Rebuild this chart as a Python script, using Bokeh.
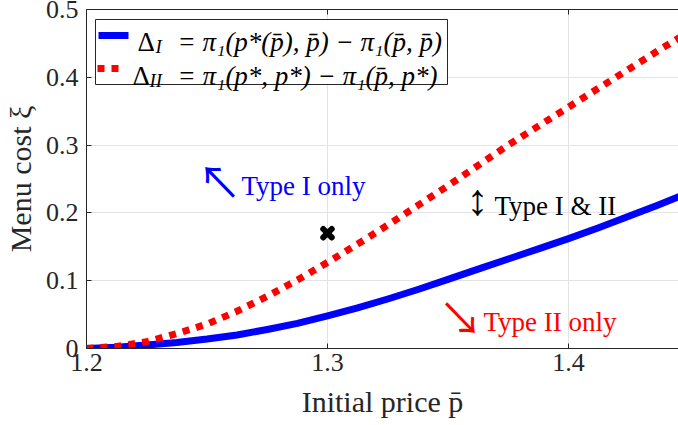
from bokeh.plotting import figure
from bokeh.models import Range1d, LinearAxis, FixedTicker, Label, BoxAnnotation, CustomJSTickFormatter
from bokeh.embed import file_html
from bokeh.resources import INLINE

# Initial price grid and the two menu-cost thresholds
price = [1.2000, 1.2125, 1.2250, 1.2375, 1.2500, 1.2625, 1.2750, 1.2875, 1.3000,
         1.3125, 1.3250, 1.3375, 1.3500, 1.3625, 1.3750, 1.3875, 1.4000, 1.4125,
         1.4250, 1.4375, 1.4500]
delta_I = [0.000, 0.002, 0.005, 0.009, 0.014, 0.020, 0.028, 0.037, 0.048,
           0.060, 0.073, 0.087, 0.102, 0.117, 0.132, 0.147, 0.162, 0.178,
           0.195, 0.212, 0.230]
delta_II = [0.000, 0.003, 0.010, 0.022, 0.036, 0.055, 0.077, 0.101, 0.127,
            0.154, 0.182, 0.211, 0.240, 0.270, 0.300, 0.328, 0.356, 0.384,
            0.412, 0.440, 0.467]

# Highlighted parameter point
point_price = [1.30]
point_cost = [0.17]

x_ticks = [1.2, 1.3, 1.4]
x_tick_labels = ["1.2", "1.3", "1.4"]
y_ticks = [0.0, 0.1, 0.2, 0.3, 0.4, 0.5]
y_tick_labels = ["0", "0.1", "0.2", "0.3", "0.4", "0.5"]

FONT = "Liberation Serif"
ARROW_FONT = "Noto Sans CJK JP"
AX = "#262626"

# Canvas and frame geometry (pixels)
W, H = 678, 425
L, R, T, B = 86, 678, 9, 348
X0, X1 = 1.2, 1.2 + (R - L) / 2410.0
Y0, Y1 = 0.0, 0.5


def dx(px):
    return X0 + (px - L) * (X1 - X0) / (R - L)


def dy(py):
    return Y1 - (py - T) * (Y1 - Y0) / (B - T)


p = figure(width=W, height=H, x_range=Range1d(X0, X1), y_range=Range1d(Y0, Y1),
           output_backend="svg", toolbar_location=None,
           min_border_left=L, min_border_right=0, min_border_top=T, min_border_bottom=H - B,
           x_axis_label="Initial price p\u0304", y_axis_label="Menu cost \u03be")
p.outline_line_color = None
p.background_fill_color = "white"
p.border_fill_color = "white"

for ax, ticks, labels in ((p.xaxis[0], x_ticks, x_tick_labels), (p.yaxis[0], y_ticks, y_tick_labels)):
    ax.ticker = FixedTicker(ticks=ticks)
    ax.major_label_overrides = dict(zip(ticks, labels))
    ax.major_tick_in = 5
    ax.major_tick_out = 0
    ax.minor_tick_in = 0
    ax.minor_tick_out = 0
    ax.axis_line_color = AX
    ax.major_tick_line_color = AX
    ax.major_label_text_font = FONT
    ax.major_label_text_font_size = "26px"
    ax.major_label_text_color = AX
    ax.axis_label_text_font = FONT
    ax.axis_label_text_font_size = "30px"
    ax.axis_label_text_font_style = "normal"
    ax.axis_label_text_color = AX

p.xaxis.major_label_standoff = 5
p.xaxis.axis_label_standoff = 11
p.yaxis.major_label_standoff = 8
p.yaxis.axis_label_standoff = 6

p.xgrid.ticker = FixedTicker(ticks=x_ticks)
p.ygrid.ticker = FixedTicker(ticks=y_ticks)
for g in (p.xgrid, p.ygrid):
    g.grid_line_color = "#e3e3e3"
    g.grid_line_width = 1

# Box edge along the top with inward ticks
top = LinearAxis(ticker=FixedTicker(ticks=x_ticks), major_tick_in=5, major_tick_out=0,
                 minor_tick_in=0, minor_tick_out=0, major_label_standoff=0,
                 major_label_text_font_size="1px",
                 formatter=CustomJSTickFormatter(code="return ''"),
                 axis_line_color=AX, major_tick_line_color=AX)
p.add_layout(top, "above")

# Threshold curves
p.line(price, delta_I, line_color="#0000ff", line_width=7, line_join="round")
p.line(price, delta_II, line_color="#ff0000", line_width=7, line_dash="7 7",
       line_cap="butt", line_join="round")
p.scatter(point_price, point_cost, marker="x", size=12, line_width=6,
          line_color="black", line_cap="round")


def label(px, py, text, color="black", size="27px", style="normal",
          align="left", baseline="alphabetic", font=FONT):
    p.add_layout(Label(x=dx(px), y=dy(py), text=text, text_font=font, text_font_size=size,
                       text_font_style=style, text_color=color,
                       text_align=align, text_baseline=baseline))


# Region annotations: arrow glyph plus region name
label(219, 179, "\u2196", color="#0000ff", size="44px", align="center", baseline="middle",
      font=ARROW_FONT)
label(241, 185, "Type I only", color="#0000ff")
label(477, 200, "\u2195", color="black", size="44px", align="center", baseline="middle")
label(494, 205, "Type I & II", color="black")
label(460, 315, "\u2198", color="#ff0000", size="44px", align="center", baseline="middle",
      font=ARROW_FONT)
label(483, 321, "Type II only", color="#ff0000")

# Legend box
p.add_layout(BoxAnnotation(left=dx(95), right=dx(447), top=dy(19), bottom=dy(84),
                           fill_color="white", fill_alpha=1.0,
                           line_color=AX, line_width=1, line_alpha=1.0))
p.line([dx(98), dx(128)], [dy(35), dy(35)], line_color="#0000ff", line_width=7, level="overlay")
p.line([dx(97), dx(121)], [dy(68), dy(68)], line_color="#ff0000", line_width=7,
       line_dash="7 7", line_cap="butt", level="overlay")

label(137, 41, "\u0394")
label(155, 46, "I", size="19px", style="italic")
label(177, 41, "= \u03c0\u2081(p*(p\u0304), p\u0304) \u2212 \u03c0\u2081(p\u0304, p\u0304)", style="italic")
label(132, 75, "\u0394")
label(149, 80, "II", size="19px", style="italic")
label(177, 75, "= \u03c0\u2081(p*, p*) \u2212 \u03c0\u2081(p\u0304, p*)", style="italic")

open("out.html", "w").write(file_html(p, INLINE))
